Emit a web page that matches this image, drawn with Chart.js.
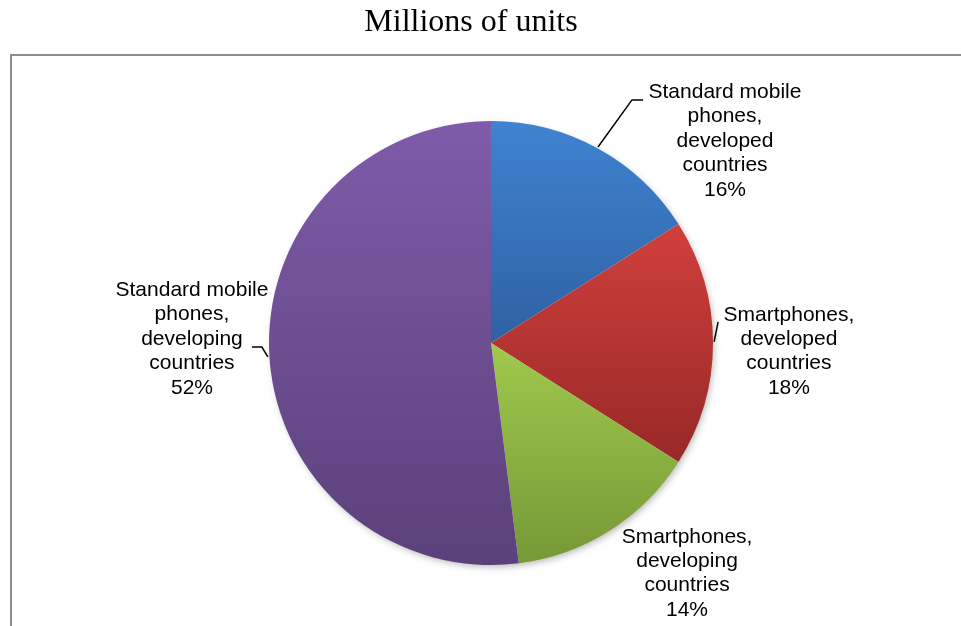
<!DOCTYPE html>
<html>
<head>
<meta charset="utf-8">
<title>Millions of units</title>
<style>
  html, body { margin: 0; padding: 0; background: #fff; }
  #wrap { width: 961px; height: 626px; position: relative; }
</style>
</head>
<body>
<div id="wrap"><canvas id="pie"></canvas></div>
<script src="https://cdn.jsdelivr.net/npm/chart.js@4/dist/chart.umd.min.js"></script>
<script>
// categories (one entry per text line) and shares in percent
const categories = [
  ['Standard mobile', 'phones,', 'developed', 'countries'],
  ['Smartphones,', 'developed', 'countries'],
  ['Smartphones,', 'developing', 'countries'],
  ['Standard mobile', 'phones,', 'developing', 'countries']
];
const units = [16, 18, 14, 52];

const topColors = ['#4083d0', '#d03f3c', '#a0c94d', '#7f5ba9'];
const bottomColors = ['#2e61a3', '#982927', '#769836', '#5b417b'];

// label block centres and leader lines, measured in pie radii from the centre
const labelPos = [[1.054, -0.91], [1.342, 0.038], [0.883, 1.038], [-1.347, -0.018]];
const leaders = [
  [[0.482, -0.883], [0.635, -1.095], [0.685, -1.095]],
  [[1.005, -0.005], [1.023, -0.095]],
  [],
  [[-1.005, 0.063], [-1.032, 0.018], [-1.077, 0.018]]
];

const LABEL_FONT = '21px "Liberation Sans", Arial, sans-serif';
const LINE_H = 24.4;

function pieGeometry(chart) {
  const a = chart.chartArea;
  return {
    cx: (a.left + a.right) / 2,
    cy: (a.top + a.bottom) / 2,
    r: Math.min(a.right - a.left, a.bottom - a.top) / 2
  };
}

// each slice gets its own top-to-bottom shade over its vertical extent
function sliceFill(ctx) {
  const chart = ctx.chart;
  const i = ctx.dataIndex;
  if (!chart.chartArea || i === undefined) return topColors[i || 0];
  const g = pieGeometry(chart);
  const total = units.reduce((s, v) => s + v, 0);
  let cum = 0;
  for (let k = 0; k < i; k++) cum += units[k];
  const a0 = -Math.PI / 2 + 2 * Math.PI * cum / total;
  const a1 = a0 + 2 * Math.PI * units[i] / total;
  let ymin = g.cy, ymax = g.cy;
  for (let s = 0; s <= 60; s++) {
    const y = g.cy + g.r * Math.sin(a0 + (a1 - a0) * s / 60);
    ymin = Math.min(ymin, y);
    ymax = Math.max(ymax, y);
  }
  const grad = chart.ctx.createLinearGradient(0, ymin, 0, ymax);
  grad.addColorStop(0, topColors[i]);
  grad.addColorStop(1, bottomColors[i]);
  return grad;
}

const frameAndTitle = {
  id: 'frameAndTitle',
  beforeDraw(chart) {
    const c = chart.ctx;
    c.save();
    c.strokeStyle = '#8d8d8d';
    c.lineWidth = 2;
    c.beginPath();
    c.moveTo(11, chart.height);
    c.lineTo(11, 55);
    c.lineTo(chart.width + 2, 55);
    c.stroke();
    c.fillStyle = '#000';
    c.font = '32px "Liberation Serif", "Times New Roman", serif';
    c.textAlign = 'center';
    c.textBaseline = 'middle';
    c.fillText('Millions of units', 471, 23);
    c.restore();
  },
  beforeDatasetsDraw(chart) {
    // soft drop shadow under the whole pie
    const g = pieGeometry(chart);
    const c = chart.ctx;
    c.save();
    c.shadowColor = 'rgba(0,0,0,0.28)';
    c.shadowBlur = 7;
    c.shadowOffsetX = 2;
    c.shadowOffsetY = 3;
    c.fillStyle = '#fff';
    c.beginPath();
    c.arc(g.cx, g.cy, g.r - 1, 0, Math.PI * 2);
    c.fill();
    c.restore();
  },
  afterDatasetsDraw(chart) {
    const g = pieGeometry(chart);
    const c = chart.ctx;
    const total = units.reduce((s, v) => s + v, 0);
    c.save();
    c.strokeStyle = '#000';
    c.lineWidth = 1.5;
    leaders.forEach(pts => {
      if (!pts.length) return;
      c.beginPath();
      pts.forEach((p, k) => {
        const x = g.cx + p[0] * g.r, y = g.cy + p[1] * g.r;
        if (k === 0) c.moveTo(x, y); else c.lineTo(x, y);
      });
      c.stroke();
    });
    c.fillStyle = '#000';
    c.font = LABEL_FONT;
    c.textAlign = 'center';
    c.textBaseline = 'middle';
    categories.forEach((lines, i) => {
      const text = lines.concat([Math.round(units[i] / total * 100) + '%']);
      const x = g.cx + labelPos[i][0] * g.r;
      const y = g.cy + labelPos[i][1] * g.r;
      text.forEach((t, k) => {
        c.fillText(t, x, y + (k - (text.length - 1) / 2) * LINE_H);
      });
    });
    c.restore();
  }
};

new Chart(document.getElementById('pie'), {
  type: 'pie',
  data: {
    labels: categories,
    datasets: [{
      data: units,
      backgroundColor: sliceFill,
      borderWidth: 0
    }]
  },
  options: {
    responsive: true,
    maintainAspectRatio: false,
    animation: false,
    layout: { padding: { top: 121, bottom: 61, left: 100, right: 79 } },
    plugins: {
      legend: { display: false },
      tooltip: { enabled: false },
      title: { display: false }
    }
  },
  plugins: [frameAndTitle]
});
</script>
</body>
</html>
